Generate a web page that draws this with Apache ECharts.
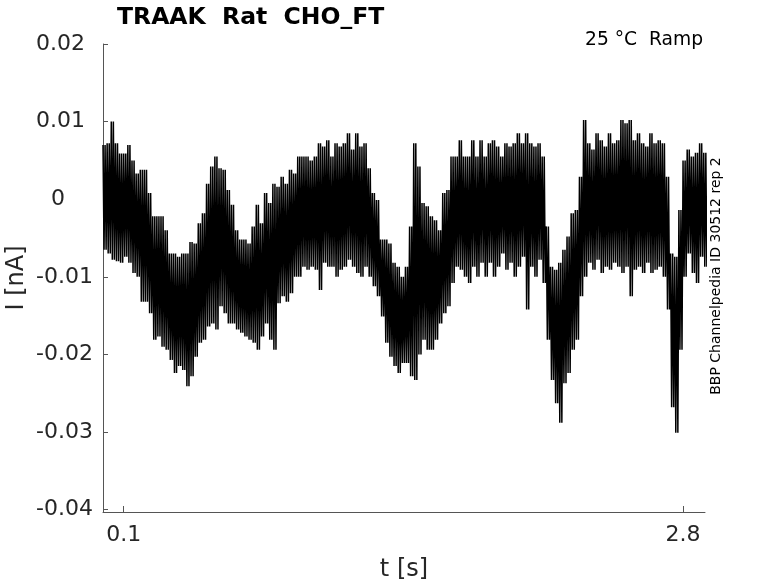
<!DOCTYPE html>
<html>
<head>
<meta charset="utf-8">
<script src="https://cdn.jsdelivr.net/npm/echarts@6/dist/echarts.min.js"></script>
<style>
html,body{margin:0;padding:0;background:#fff;}
#chart{width:778px;height:583px;}
</style>
</head>
<body>
<div id="chart"></div>
<script>
// Sampling grid of the read-off envelope (seconds)
const tStart = 0;
const tStep = 0.02;

// Upper envelope of the noisy current trace (nA), one value per tStep
const upper = [
  0.007, 0.0072, 0.010, 0.0072, 0.0059, 0.0059, 0.007, 0.005, 0.0033, 0.0038,
  0.0038, 0.0008, -0.0022, -0.0022, -0.0022, -0.004, -0.007, -0.007, -0.0074, -0.007,
  -0.007, -0.0055, -0.0057, -0.0031, -0.0018,
  0.002, 0.0042, 0.0055, 0.004, 0.0038, 0.0012, -0.0007, -0.004, -0.0052, -0.0052,
  -0.0057, -0.0035, -0.0007, -0.0031, 0.0008, -0.0005, 0.002, 0.0016, 0.0029, 0.002,
  0.0038, 0.0033, 0.0055, 0.0055,
  0.0055, 0.005, 0.0055, 0.0072, 0.0068, 0.0076, 0.0055, 0.0072, 0.0068, 0.0072,
  0.0085, 0.0064, 0.0085, 0.0068, 0.0072, 0.004, 0.0008, -0.0001, -0.0052, -0.0052,
  -0.0057, -0.0082, -0.0087, -0.01,
  -0.0087, -0.0035, 0.0072, 0.0042, -0.0005, -0.0009, -0.0022, -0.0027, -0.004, 0.0008,
  0.0012, 0.0055, 0.0055, 0.0076, 0.0055, 0.0055, 0.0076, 0.0055, 0.0076, 0.0055,
  0.0072, 0.0076, 0.0068, 0.0055,
  0.0072, 0.0068, 0.0072, 0.0085, 0.0072, 0.0085, 0.0072, 0.0068, 0.0072, 0.0055,
  -0.0035, -0.0087, -0.0091, -0.0082, -0.0065, -0.0048, -0.0018, -0.0014, 0.0029, 0.0102,
  0.0072, 0.0064, 0.0085, 0.0076, 0.0068, 0.0085, 0.0072, 0.0076, 0.0102, 0.0098,
  0.0102, 0.0076, 0.0085, 0.0072, 0.0068, 0.0085, 0.0072, 0.0076, 0.0072, 0.0029,
  -0.007, -0.0074, -0.0014, 0.005, 0.0064, 0.0055, 0.006, 0.0072, 0.006
];

// Lower envelope of the noisy current trace (nA)
const lower = [
  -0.0065, -0.007, -0.0078, -0.008, -0.0082, -0.0074, -0.0082, -0.0095, -0.01, -0.0132,
  -0.0132, -0.0147, -0.0181, -0.0177, -0.019, -0.0194, -0.0207, -0.0224, -0.0215, -0.022,
  -0.0241, -0.0228, -0.0203, -0.0185, -0.0181,
  -0.0164, -0.016, -0.0168, -0.0138, -0.0147, -0.016, -0.016, -0.0168, -0.0172, -0.0177,
  -0.0181, -0.0185, -0.0194, -0.0177, -0.016, -0.0181, -0.0194, -0.0134, -0.0125, -0.0132,
  -0.0121, -0.01, -0.01, -0.0087,
  -0.0091, -0.0087, -0.0091, -0.0117, -0.0082, -0.0087, -0.0087, -0.01, -0.0091, -0.0087,
  -0.0078, -0.0087, -0.0095, -0.01, -0.0087, -0.01, -0.0112, -0.0125, -0.0151, -0.0185,
  -0.0203, -0.0215, -0.0224, -0.0211,
  -0.0211, -0.0228, -0.0233, -0.02, -0.0181, -0.0194, -0.0194, -0.0181, -0.016, -0.0147,
  -0.0138, -0.0108, -0.0087, -0.0091, -0.01, -0.0108, -0.0087, -0.01, -0.0082, -0.01,
  -0.0082, -0.01, -0.0087, -0.007,
  -0.0091, -0.0082, -0.01, -0.0087, -0.0074, -0.0142, -0.0087, -0.01, -0.0078, -0.0108,
  -0.0181, -0.0233, -0.0263, -0.0288, -0.0237, -0.0224, -0.0194, -0.0181, -0.0125, -0.01,
  -0.0082, -0.0091, -0.0078, -0.0095, -0.0087, -0.0091, -0.0082, -0.0087, -0.0095, -0.0087,
  -0.0125, -0.0091, -0.0087, -0.0095, -0.0082, -0.0095, -0.0091, -0.0087, -0.01, -0.0142,
  -0.0268, -0.0301, -0.0194, -0.01, -0.007, -0.0095, -0.0108, -0.0074, -0.0087
];

// Axis tick values and labels
const xTicks = [0.1, 2.8];
const yTicks = [-0.04, -0.03, -0.02, -0.01, 0, 0.01, 0.02];

const titleText = 'TRAAK  Rat  CHO_FT';
const condText = '25 °C  Ramp';
const sideText = 'BBP Channelpedia ID 30512 rep 2';

// Build the zig-zag trace from the read envelopes
const trace = [];
for (let i = 0; i < upper.length; i++) {
  const t = tStart + i * tStep;
  trace.push([t, upper[i]]);
  trace.push([t + tStep * 0.25, lower[i]]);
  trace.push([t + tStep * 0.5, upper[i]]);
  trace.push([t + tStep * 0.75, lower[i]]);
}

const FONT = '"DejaVu Sans", "Liberation Sans", sans-serif';
const chart = echarts.init(document.getElementById('chart'), null, {renderer: 'canvas'});

chart.setOption({
  animation: false,
  backgroundColor: '#fff',
  grid: {left: 103, right: 73, top: 44, bottom: 71, containLabel: false, outerBoundsMode: 'none'},
  xAxis: {
    type: 'value',
    min: 0,
    max: 2.906,
    name: 't [s]',
    nameLocation: 'middle',
    nameGap: 46,
    nameMoveOverlap: false,
    nameTextStyle: {fontFamily: FONT, fontSize: 24, color: '#262626'},
    splitLine: {show: false},
    axisLine: {show: true, onZero: false, lineStyle: {color: '#555', width: 1}},
    axisTick: {show: true, inside: true, length: 6, customValues: xTicks, lineStyle: {color: '#555'}},
    axisLabel: {
      customValues: xTicks,
      margin: 12,
      fontFamily: FONT, fontSize: 22, color: '#262626',
      formatter: v => String(Math.round(v * 10) / 10)
    }
  },
  yAxis: {
    type: 'value',
    min: -0.0403,
    max: 0.02,
    name: 'I [nA]',
    nameLocation: 'middle',
    nameRotate: 90,
    nameGap: 74,
    nameMoveOverlap: false,
    nameTextStyle: {fontFamily: FONT, fontSize: 24, color: '#262626'},
    splitLine: {show: false},
    axisLine: {show: true, onZero: false, lineStyle: {color: '#555', width: 1}},
    axisTick: {show: true, inside: true, length: 5, customValues: yTicks, lineStyle: {color: '#555'}},
    axisLabel: {
      customValues: yTicks,
      align: 'left',
      margin: 67,
      fontFamily: FONT, fontSize: 22, color: '#262626',
      formatter: v => Math.abs(v) < 1e-9 ? '{z|0}' : v.toFixed(2),
      rich: {z: {fontFamily: FONT, fontSize: 22, color: '#262626', padding: [0, 0, 0, 15]}}
    }
  },
  graphic: [
    {type: 'text', x: 117, y: 18, style: {text: titleText, font: 'bold 23.5px ' + FONT, fill: '#000', align: 'left', verticalAlign: 'middle'}},
    {type: 'text', x: 585, y: 40, style: {text: condText, font: '18.7px ' + FONT, fill: '#000', align: 'left', verticalAlign: 'middle'}},
    {type: 'text', x: 716, y: 276, rotation: Math.PI / 2, style: {text: sideText, font: '14px ' + FONT, fill: '#000', align: 'center', verticalAlign: 'middle'}}
  ],
  series: [{
    type: 'line',
    data: trace,
    showSymbol: false,
    sampling: null,
    clip: true,
    lineStyle: {color: '#000', width: 1.5},
    emphasis: {disabled: true}
  }]
});
</script>
</body>
</html>
